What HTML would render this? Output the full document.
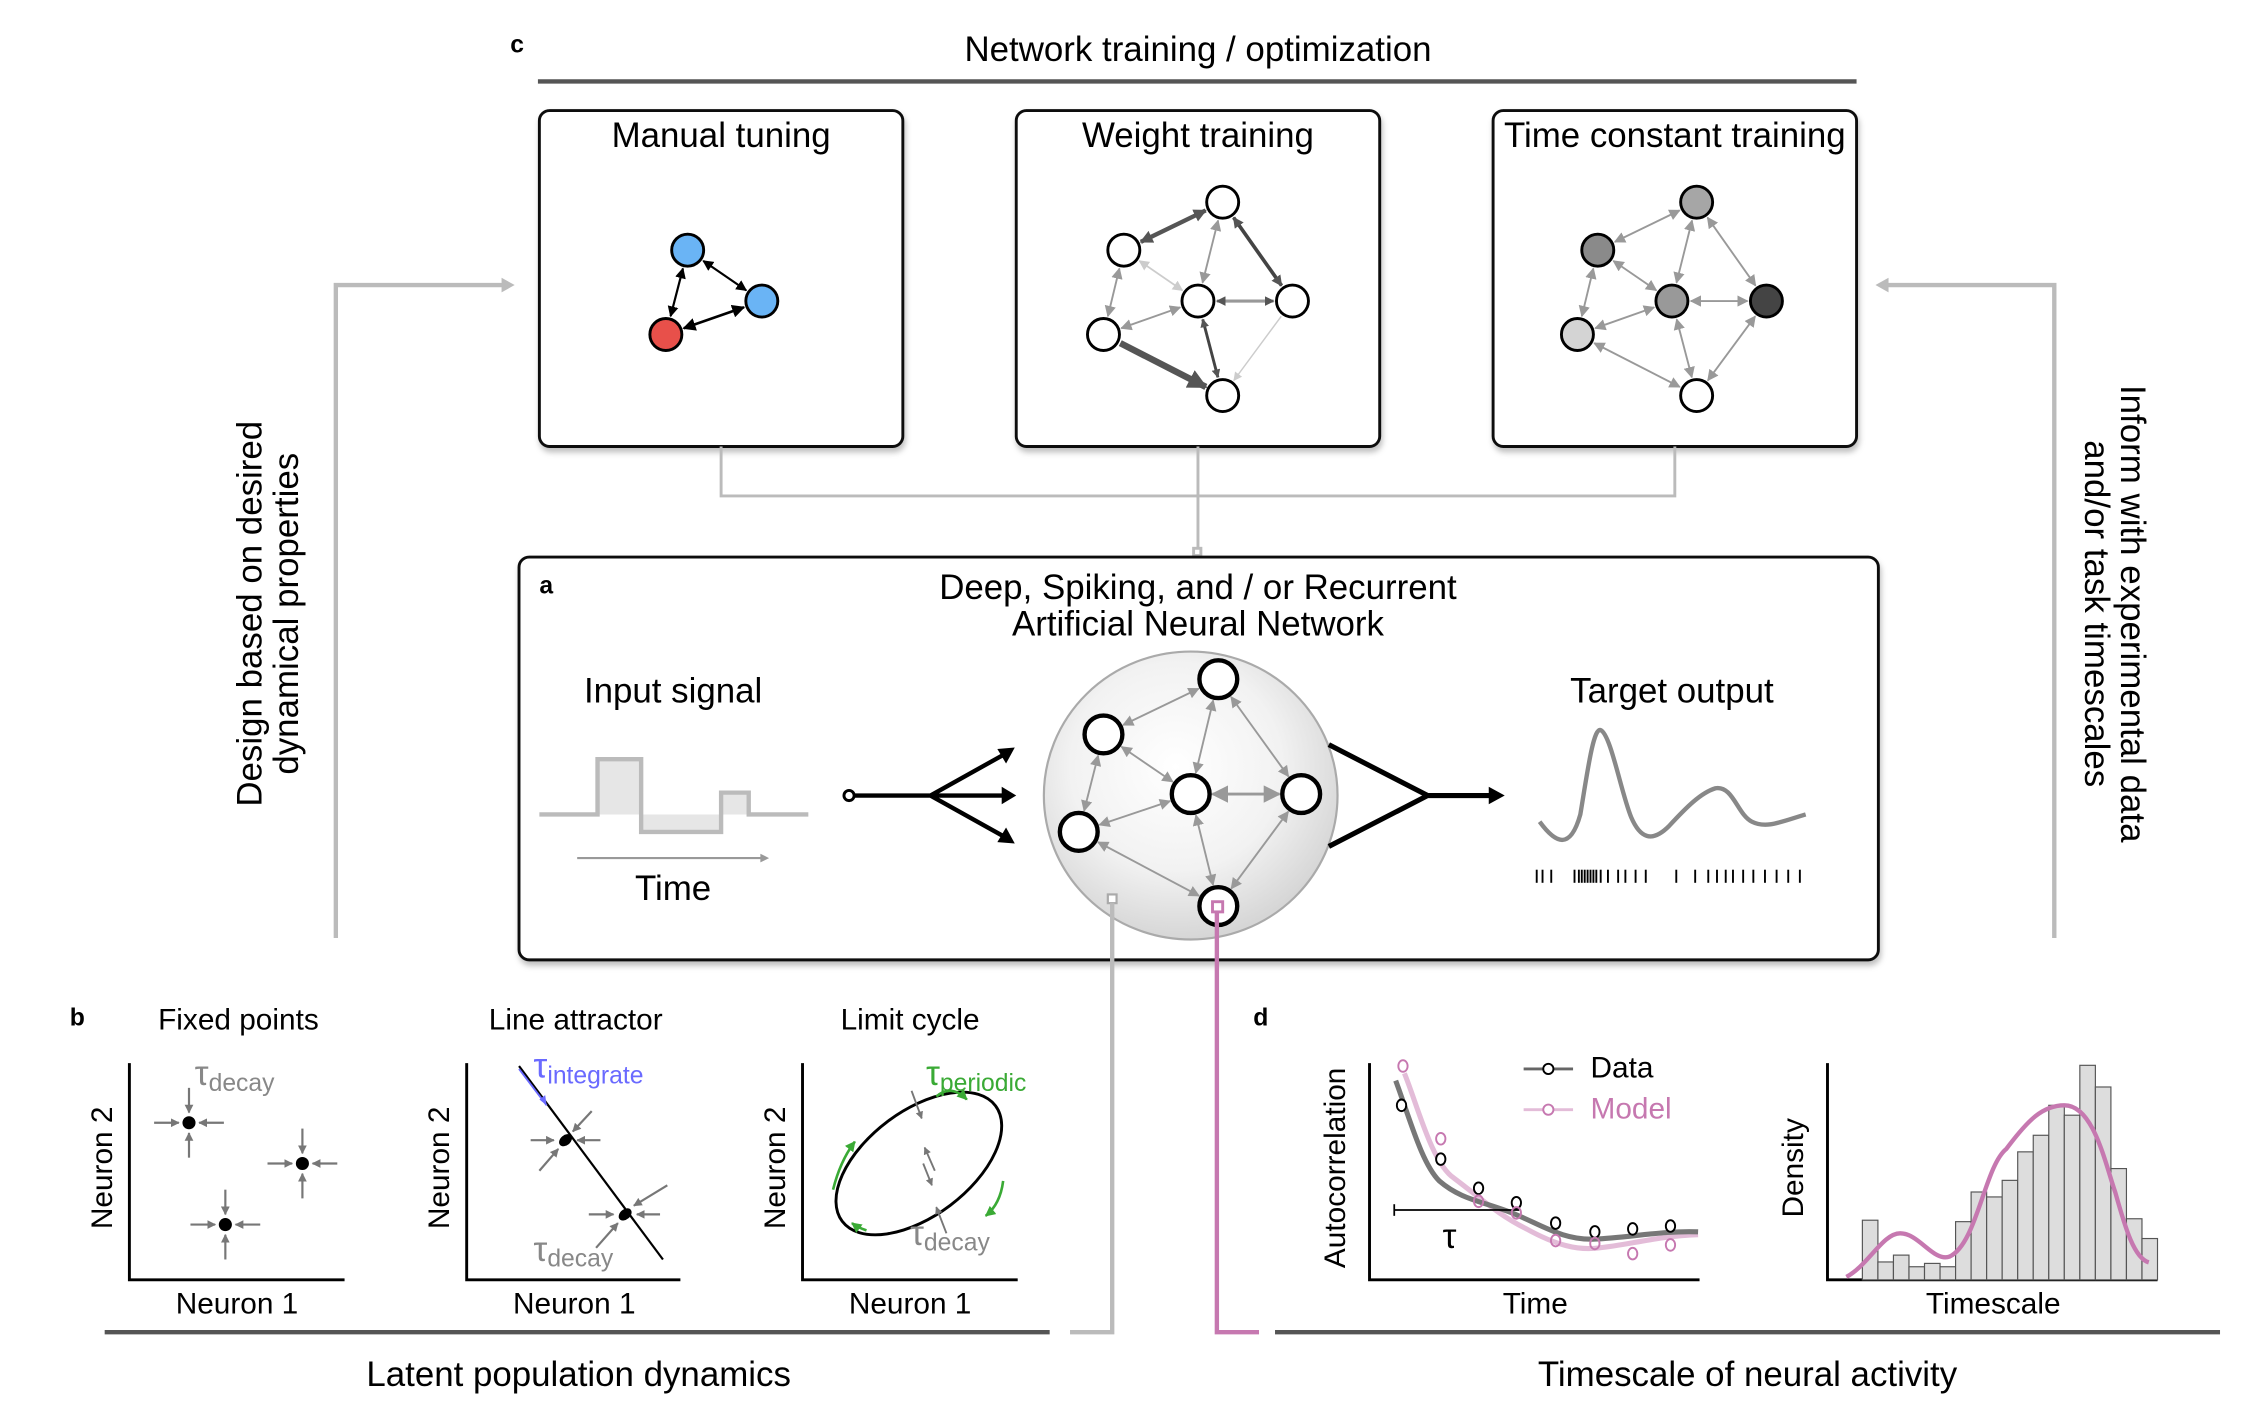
<!DOCTYPE html>
<html><head><meta charset="utf-8"><style>
html,body{margin:0;padding:0;background:#fff}
svg{display:block}
text{font-family:"Liberation Sans",Arial,sans-serif;fill:#000}
</style></head><body>
<svg id="s" width="2268" height="1418" viewBox="0 0 1560 975" preserveAspectRatio="none" xmlns="http://www.w3.org/2000/svg">
<defs>
<marker id="mk" viewBox="0 0 10 10" refX="9" refY="5" markerWidth="5" markerHeight="5" orient="auto-start-reverse"><path d="M0,0L10,5L0,10z" fill="#000"/></marker>
<marker id="mg" viewBox="0 0 10 10" refX="9" refY="5" markerWidth="6" markerHeight="6" orient="auto-start-reverse"><path d="M0,0L10,5L0,10z" fill="#999"/></marker>
<marker id="ml" viewBox="0 0 10 10" refX="9" refY="5" markerWidth="6" markerHeight="6" orient="auto-start-reverse"><path d="M0,0L10,5L0,10z" fill="#ccc"/></marker>
<marker id="md" viewBox="0 0 10 10" refX="9" refY="5" markerWidth="3" markerHeight="3" orient="auto-start-reverse"><path d="M0,0L10,5L0,10z" fill="#555"/></marker>
<marker id="mgr" viewBox="0 0 10 10" refX="9" refY="5" markerWidth="4" markerHeight="4" orient="auto-start-reverse"><path d="M0,0L10,5L0,10z" fill="#777"/></marker>
<marker id="mgreen" viewBox="0 0 10 10" refX="9" refY="5" markerWidth="4" markerHeight="4" orient="auto-start-reverse"><path d="M0,0L10,5L0,10z" fill="#3aaa35"/></marker>
<radialGradient id="sph" cx="0.45" cy="0.4" r="0.6"><stop offset="0" stop-color="#fff"/><stop offset="0.6" stop-color="#f2f2f2"/><stop offset="1" stop-color="#d6d6d6"/></radialGradient>
<filter id="sh" x="-5%" y="-5%" width="110%" height="115%"><feDropShadow dx="1" dy="3" stdDeviation="2" flood-color="#000" flood-opacity="0.25"/></filter>
</defs>

<!-- c panel -->
<text x="351" y="36" font-size="17" font-weight="bold">c</text>
<text x="824" y="42" font-size="24" text-anchor="middle">Network training / optimization</text>
<line x1="370" y1="56" x2="1277" y2="56" stroke="#555" stroke-width="3"/>
<g filter="url(#sh)" fill="#fff" stroke="#111" stroke-width="2">
<rect x="371" y="76" width="250" height="231" rx="7"/>
<rect x="699" y="76" width="250" height="231" rx="7"/>
<rect x="1027" y="76" width="250" height="231" rx="7"/>
</g>
<text x="496" y="101" font-size="24" text-anchor="middle">Manual tuning</text>
<text x="824" y="101" font-size="24" text-anchor="middle">Weight training</text>
<text x="1152" y="101" font-size="24" text-anchor="middle">Time constant training</text>

<!-- connectors -->
<g stroke="#bbb" stroke-width="2" fill="none">
<path d="M496,307V341H1152V307M824,307V380"/>
<rect x="821" y="377" width="5" height="5" fill="#fff"/>
<path d="M231,645V196H348" stroke-width="3"/>
<path d="M1413,645V196H1296" stroke-width="3"/>
</g>
<path d="M354,196l-9,-5v10z" fill="#bbb"/>
<path d="M1290,196l9,-5v10z" fill="#bbb"/>
<text transform="translate(180,422) rotate(-90)" font-size="24" text-anchor="middle">Design based on desired</text>
<text transform="translate(205,422) rotate(-90)" font-size="24" text-anchor="middle">dynamical properties</text>
<text transform="translate(1459,422) rotate(90)" font-size="24" text-anchor="middle">Inform with experimental data</text>
<text transform="translate(1434,422) rotate(90)" font-size="24" text-anchor="middle">and/or task timescales</text>

<!-- a panel -->
<rect x="357" y="383" width="935" height="277" rx="7" fill="#fff" stroke="#111" stroke-width="2" filter="url(#sh)"/>
<text x="371" y="408" font-size="17" font-weight="bold">a</text>
<text x="824" y="412" font-size="24" text-anchor="middle">Deep, Spiking, and / or Recurrent</text>
<text x="824" y="437" font-size="24" text-anchor="middle">Artificial Neural Network</text>
<text x="463" y="483" font-size="24" text-anchor="middle">Input signal</text>
<path d="M411,560V522H441V560ZM441,560V572H496V560ZM496,560V545H515V560Z" fill="#e6e6e6"/>
<path d="M371,560H411V522H441V572H496V545H515V560H556" fill="none" stroke="#bbb" stroke-width="3"/>
<line x1="397" y1="590" x2="526" y2="590" stroke="#999" stroke-width="1.5"/>
<path d="M529,590l-6,-3v6z" fill="#999"/>
<text x="463" y="619" font-size="24" text-anchor="middle">Time</text>
<circle cx="584" cy="547" r="3.5" fill="#fff" stroke="#000" stroke-width="2"/>
<g stroke="#000" stroke-width="3" fill="none">
<path d="M588,547H690M640,547L692,518M640,547L692,576"/>
</g>
<path d="M699,547l-10,-6v12z M698,514l-12,1l6,10z M698,580l-12,-1l6,-10z" fill="#000"/>
<ellipse cx="819" cy="547" rx="101" ry="99" fill="url(#sph)" stroke="#aaa" stroke-width="1.5"/>
<g stroke="#000" stroke-width="3.5" fill="none">
<path d="M914,512L982,547L914,582M982,547H1026"/>
</g>
<path d="M1035,547l-11,-6v12z" fill="#000"/>
<text x="1150" y="483" font-size="24" text-anchor="middle">Target output</text>
<path d="M1059,565C1070,580 1080,585 1087,560C1092,530 1096,500 1101,502C1108,505 1115,545 1122,562C1128,576 1136,580 1148,568C1160,555 1170,545 1180,542C1192,540 1195,560 1205,565C1215,570 1225,565 1242,560" fill="none" stroke="#888" stroke-width="3"/>
<g id="spikes" stroke="#000" stroke-width="1.3"></g>

<g id="edges"></g>
<g id="nodes"></g>

<!-- sub connectors -->
<rect x="762" y="615" width="6" height="6" fill="#fff" stroke="#aaa" stroke-width="1.5"/>
<path d="M765,621V916H736" fill="none" stroke="#bbb" stroke-width="3"/>
<rect x="834" y="620" width="7" height="7" fill="none" stroke="#c678b0" stroke-width="2"/>
<path d="M837,627V916H866" fill="none" stroke="#c678b0" stroke-width="3"/>
<line x1="72" y1="916" x2="722" y2="916" stroke="#555" stroke-width="3"/>
<line x1="877" y1="916" x2="1527" y2="916" stroke="#555" stroke-width="3"/>
<text x="398" y="953" font-size="24" text-anchor="middle">Latent population dynamics</text>
<text x="1202" y="953" font-size="24" text-anchor="middle">Timescale of neural activity</text>

<!-- b panel -->
<text x="48" y="705" font-size="17" font-weight="bold">b</text>
<text x="164" y="708" font-size="20.5" text-anchor="middle">Fixed points</text>
<text x="396" y="708" font-size="20.5" text-anchor="middle">Line attractor</text>
<text x="626" y="708" font-size="20.5" text-anchor="middle">Limit cycle</text>
<g stroke="#000" stroke-width="2" fill="none">
<path d="M89,731V880H237M321,731V880H468M552,731V880H700"/>
</g>
<text x="163" y="903" font-size="20.5" text-anchor="middle">Neuron 1</text>
<text x="395" y="903" font-size="20.5" text-anchor="middle">Neuron 1</text>
<text x="626" y="903" font-size="20.5" text-anchor="middle">Neuron 1</text>
<text transform="translate(77,803) rotate(-90)" font-size="20.5" text-anchor="middle">Neuron 2</text>
<text transform="translate(309,803) rotate(-90)" font-size="20.5" text-anchor="middle">Neuron 2</text>
<text transform="translate(540,803) rotate(-90)" font-size="20.5" text-anchor="middle">Neuron 2</text>
<g id="fp" stroke="#777" stroke-width="1.5"></g>
<circle cx="130" cy="772" r="4.5"/><circle cx="208" cy="800" r="4.5"/><circle cx="155" cy="842" r="4.5"/>
<text x="134" y="746" font-size="24" style="fill:#888">τ<tspan font-size="17" dy="4">decay</tspan></text>
<!-- line attractor -->
<line x1="357" y1="733" x2="456" y2="866" stroke="#000" stroke-width="1.5"/>
<ellipse cx="389" cy="784" rx="5" ry="3.5" transform="rotate(-40 389 784)"/>
<ellipse cx="430" cy="835" rx="5" ry="3.5" transform="rotate(-40 430 835)"/>
<g stroke="#777" stroke-width="1.5" marker-end="url(#mgr)">
<line x1="365" y1="784" x2="381" y2="784"/><line x1="413" y1="784" x2="397" y2="784"/>
<line x1="407" y1="764" x2="394" y2="778"/><line x1="371" y1="805" x2="384" y2="790"/>
<line x1="405" y1="835" x2="422" y2="835"/><line x1="454" y1="835" x2="438" y2="835"/>
<line x1="459" y1="815" x2="436" y2="829"/><line x1="410" y1="858" x2="425" y2="841"/>
</g>
<line x1="357" y1="735" x2="376" y2="760" stroke="#6a6aff" stroke-width="1.3"/>
<path d="M376,760l-1,-7l-4,3z" fill="#6a6aff"/>
<text x="367" y="741" font-size="24" style="fill:#6a6aff">τ<tspan font-size="17" dy="4">integrate</tspan></text>
<text x="367" y="867" font-size="24" style="fill:#888">τ<tspan font-size="17" dy="4">decay</tspan></text>
<!-- limit cycle -->
<ellipse cx="632" cy="800" rx="66" ry="36" transform="rotate(-37 632 800)" fill="none" stroke="#000" stroke-width="2"/>
<g stroke="#777" stroke-width="1.3" marker-end="url(#mgr)">
<line x1="627" y1="750" x2="634" y2="769"/><line x1="643" y1="805" x2="636" y2="789"/>
<line x1="635" y1="800" x2="641" y2="815"/><line x1="651" y1="848" x2="644" y2="830"/>
</g>
<g stroke="#3aaa35" stroke-width="1.8" fill="none" marker-end="url(#mgreen)">
<path d="M644,754Q654,745 665,756"/><path d="M690,812Q688,828 678,836"/>
<path d="M573,818Q578,798 588,785"/><path d="M596,846Q590,844 586,841"/>
</g>
<text x="637" y="746" font-size="24" style="fill:#3aaa35">τ<tspan font-size="17" dy="4">periodic</tspan></text>
<text x="626" y="856" font-size="24" style="fill:#888">τ<tspan font-size="17" dy="4">decay</tspan></text>

<!-- d panel -->
<text x="862" y="705" font-size="17" font-weight="bold">d</text>
<g stroke="#000" stroke-width="2" fill="none">
<path d="M942,731V880H1169M1257,731V880H1484"/>
</g>
<text transform="translate(925,803) rotate(-90)" font-size="20.5" text-anchor="middle">Autocorrelation</text>
<text transform="translate(1240,803) rotate(-90)" font-size="20.5" text-anchor="middle">Density</text>
<text x="1056" y="903" font-size="20.5" text-anchor="middle">Time</text>
<text x="1371" y="903" font-size="20.5" text-anchor="middle">Timescale</text>
<path d="M966,738C975,760 985,800 1000,810C1020,825 1030,835 1050,845C1070,856 1085,860 1100,858C1120,856 1140,850 1168,849" fill="none" stroke="#e3bcd8" stroke-width="3.5"/>
<path d="M960,743C970,770 978,800 990,812C1005,825 1020,826 1040,834C1060,842 1075,853 1097,852C1120,851 1145,846 1168,847" fill="none" stroke="#777" stroke-width="3.5"/>
<line x1="959" y1="832" x2="1045" y2="832" stroke="#000" stroke-width="1.2"/>
<line x1="959" y1="828" x2="959" y2="836" stroke="#000" stroke-width="1.2"/>
<text x="997" y="858" font-size="24" text-anchor="middle" font-family="Liberation Serif">τ</text>
<g fill="#fff" stroke="#000" stroke-width="1.3" id="dpts"></g>
<g fill="none" stroke="#c678b0" stroke-width="1.3" id="mpts"></g>
<line x1="1048" y1="735" x2="1082" y2="735" stroke="#666" stroke-width="2"/>
<circle cx="1065" cy="735" r="3.5" fill="#fff" stroke="#000" stroke-width="1.3"/>
<line x1="1048" y1="763" x2="1082" y2="763" stroke="#e3bcd8" stroke-width="2"/>
<circle cx="1065" cy="763" r="3.5" fill="#fff" stroke="#c678b0" stroke-width="1.3"/>
<text x="1094" y="741" font-size="20.5">Data</text>
<text x="1094" y="769" font-size="20.5" style="fill:#c678b0">Model</text>
<g id="hist" fill="#ddd" stroke="#555" stroke-width="0.8"></g>
<path d="M1270,878C1285,870 1295,848 1307,848C1320,848 1330,868 1341,864C1360,855 1365,802 1380,790C1395,770 1405,760 1420,760C1440,760 1448,800 1455,820C1462,845 1468,865 1478,868" fill="none" stroke="#c678b0" stroke-width="3"/>
</svg>
<script>
const NS="http://www.w3.org/2000/svg";
function el(p,t,a){const e=document.createElementNS(NS,t);for(const k in a)e.setAttribute(k,a[k]);document.getElementById(p).appendChild(e);return e;}
function edge(a,b,r,col,w,mk,both){
 const dx=b[0]-a[0],dy=b[1]-a[1],L=Math.hypot(dx,dy),ux=dx/L,uy=dy/L;
 const g=r+2;
 const at={x1:a[0]+ux*g,y1:a[1]+uy*g,x2:b[0]-ux*g,y2:b[1]-uy*g,stroke:col,"stroke-width":w,"marker-end":"url(#"+mk+")"};
 if(both)at["marker-start"]="url(#"+mk+")";
 el("edges","line",at);
}
const A=[473,172],B=[524,207],C=[458,230];
edge(A,B,11,"#000",1.5,"mk",1);edge(A,C,11,"#000",1.5,"mk",1);edge(B,C,11,"#000",1.8,"mk",1);
const W=[[841,139],[773,172],[824,207],[889,207],[759,230],[841,272]];
const wE=[[0,1,"#555",3,"md",1],[0,3,"#444",2.5,"md",1],[0,2,"#999",1.3,"mg",1],[1,2,"#ccc",1.2,"ml",1],[1,4,"#999",1.3,"mg",1],[2,3,"#999",2.2,"md",1],[2,4,"#999",1.3,"mg",1],[2,5,"#444",2,"md",1],[4,5,"#555",4.5,"md",0],[3,5,"#ccc",1,"ml",0]];
wE.forEach(e=>edge(W[e[0]],W[e[1]],11,e[2],e[3],e[4],e[5]));
const T=W.map(p=>[p[0]+326,p[1]]);
wE.forEach(e=>edge(T[e[0]],T[e[1]],11,"#999",1.3,"mg",1));
const P=[[838,467],[759,505],[819,546],[895,546],[742,572],[838,623]];
[[0,1],[0,2],[0,3],[1,2],[1,4],[2,3],[2,4],[2,5],[4,5],[3,5]].forEach(e=>edge(P[e[0]],P[e[1]],13,"#999",e[0]==2&&e[1]==3?2:1.3,"mg",1));
W.forEach(p=>el("nodes","circle",{cx:p[0],cy:p[1],r:11,fill:"#fff",stroke:"#000","stroke-width":2}));
const tc=["#a6a6a6","#8a8a8a","#999","#444","#d4d4d4","#fff"];
T.forEach((p,i)=>el("nodes","circle",{cx:p[0],cy:p[1],r:11,fill:tc[i],stroke:"#000","stroke-width":2}));
el("nodes","circle",{cx:A[0],cy:A[1],r:11,fill:"#6ab4f5",stroke:"#000","stroke-width":2});
el("nodes","circle",{cx:B[0],cy:B[1],r:11,fill:"#6ab4f5",stroke:"#000","stroke-width":2});
el("nodes","circle",{cx:C[0],cy:C[1],r:11,fill:"#e8504a",stroke:"#000","stroke-width":2});
P.forEach(p=>el("nodes","circle",{cx:p[0],cy:p[1],r:13,fill:"#fff",stroke:"#000","stroke-width":3}));
[1057,1061,1067,1083,1086,1088,1090,1092,1094,1096,1098,1101,1106,1113,1118,1125,1132,1153,1166,1175,1181,1187,1192,1199,1206,1214,1222,1230,1238].forEach(x=>el("spikes","line",{x1:x,y1:598,x2:x,y2:607}));
[[130,772],[208,800],[155,842]].forEach(([x,y])=>{
 [[-24,0],[24,0],[0,-24],[0,24]].forEach(([dx,dy])=>{
  const s=7;el("fp","line",{x1:x+dx,y1:y+dy,x2:x+Math.sign(dx)*s,y2:y+Math.sign(dy)*s,"marker-end":"url(#mgr)"});
 });
});
const dx=[964,991,1017,1043,1070,1097,1123,1149];
[760,797,817,827,841,847,845,843].forEach((y,i)=>el("dpts","ellipse",{cx:dx[i],cy:y,rx:3.2,ry:4}));
[733,783,826,834,853,855,862,856].forEach((y,i)=>el("mpts","ellipse",{cx:dx[i]+(i==0?1:0),cy:y,rx:3.2,ry:4}));
const tops=[839,867.7,863,871,868.7,871,840,819.6,823,811.6,792,780.6,760,766.8,732.5,747.4,803.5,838,851.6];
const bw=(1484-1281)/19;
tops.forEach((t,i)=>el("hist","rect",{x:1281+i*bw,y:t,width:bw,height:880-t}));
</script>
</body></html>
